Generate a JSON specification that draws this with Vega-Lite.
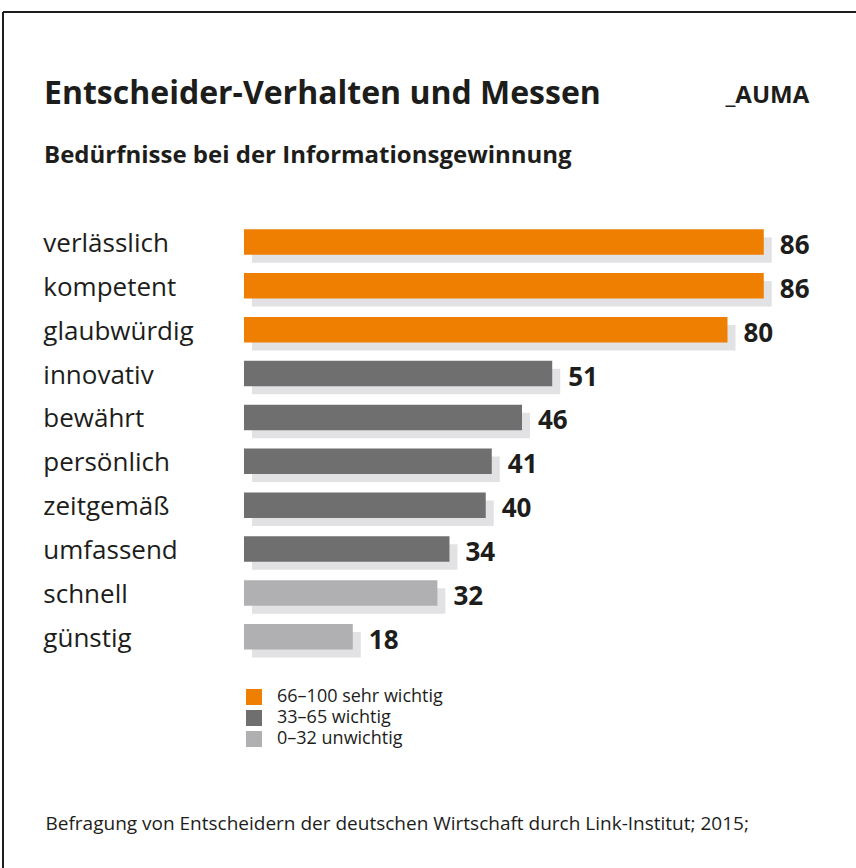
{
  "$schema": "https://vega.github.io/schema/vega-lite/v6.json",
  "width": 853,
  "height": 856,
  "autosize": {"type": "none"},
  "padding": {"left": 3, "top": 12, "right": 0, "bottom": 0},
  "background": "white",
  "title": {
    "text": "Entscheider-Verhalten und Messen",
    "subtitle": "Bedürfnisse bei der Informationsgewinnung",
    "anchor": "start",
    "frame": "group",
    "orient": "top",
    "offset": -157,
    "dx": 41,
    "font": "Open Sans",
    "fontSize": 32,
    "fontWeight": "bold",
    "color": "#1d1d1b",
    "subtitleFont": "Open Sans",
    "subtitleFontSize": 24,
    "subtitleFontWeight": "bold",
    "subtitleColor": "#1d1d1b",
    "subtitlePadding": 33
  },
  "data": {
    "values": [
      {"Merkmal": "verlässlich", "Wert": 86, "Gruppe": "66–100 sehr wichtig"},
      {"Merkmal": "kompetent", "Wert": 86, "Gruppe": "66–100 sehr wichtig"},
      {"Merkmal": "glaubwürdig", "Wert": 80, "Gruppe": "66–100 sehr wichtig"},
      {"Merkmal": "innovativ", "Wert": 51, "Gruppe": "33–65 wichtig"},
      {"Merkmal": "bewährt", "Wert": 46, "Gruppe": "33–65 wichtig"},
      {"Merkmal": "persönlich", "Wert": 41, "Gruppe": "33–65 wichtig"},
      {"Merkmal": "zeitgemäß", "Wert": 40, "Gruppe": "33–65 wichtig"},
      {"Merkmal": "umfassend", "Wert": 34, "Gruppe": "33–65 wichtig"},
      {"Merkmal": "schnell", "Wert": 32, "Gruppe": "0–32 unwichtig"},
      {"Merkmal": "günstig", "Wert": 18, "Gruppe": "0–32 unwichtig"}
    ]
  },
  "layer": [
    {
      "mark": {"type": "bar", "color": "#e2e2e4", "xOffset": 8, "x2Offset": 8, "yOffset": 8, "y2Offset": 8},
      "encoding": {
        "y": {
          "field": "Merkmal", "type": "nominal", "sort": null,
          "scale": {"type": "band", "range": [208, 646.7], "paddingInner": 0.419, "paddingOuter": 0.2095},
          "axis": {
            "orient": "right", "labels": false, "ticks": false, "domain": false, "grid": false,
            "title": "_AUMA", "titleAngle": 0, "titleAlign": "left", "titleBaseline": "alphabetic",
            "titleX": -131, "titleY": 90,
            "titleFont": "Open Sans", "titleFontSize": 24, "titleFontWeight": "bold", "titleColor": "#1d1d1b"
          }
        },
        "x": {
          "field": "Wert", "type": "quantitative",
          "scale": {"domain": [-39.87, 101.26], "nice": false, "zero": false},
          "axis": {
            "orient": "bottom", "labels": false, "ticks": false, "domain": false, "grid": false,
            "title": "Befragung von Entscheidern der deutschen Wirtschaft durch Link-Institut; 2015;",
            "titleAnchor": "start", "titleAlign": "left", "titleBaseline": "alphabetic",
            "titleX": 42, "titleY": -39,
            "titleFont": "Open Sans", "titleFontSize": 19, "titleFontWeight": "normal", "titleColor": "#1d1d1b",
            "titleLimit": 800
          }
        },
        "x2": {"datum": 0}
      }
    },
    {
      "mark": {"type": "bar"},
      "encoding": {
        "y": {"field": "Merkmal", "type": "nominal", "sort": null},
        "x": {"field": "Wert", "type": "quantitative"},
        "x2": {"datum": 0},
        "color": {
          "field": "Gruppe", "type": "nominal",
          "scale": {
            "domain": ["66–100 sehr wichtig", "33–65 wichtig", "0–32 unwichtig"],
            "range": ["#ee7f00", "#6f6f6f", "#b0b0b3"]
          },
          "legend": {
            "title": null, "orient": "none", "legendX": 242, "legendY": 676,
            "symbolType": "square", "symbolSize": 256, "symbolStrokeWidth": 0,
            "labelFont": "Open Sans", "labelFontSize": 18, "labelColor": "#1d1d1b",
            "labelOffset": 14, "rowPadding": 3, "padding": 0, "labelLimit": 400
          }
        }
      }
    },
    {
      "mark": {"type": "text", "align": "left", "baseline": "alphabetic", "dy": 10, "font": "Open Sans", "fontSize": 26, "color": "#1d1d1b"},
      "encoding": {
        "y": {"field": "Merkmal", "type": "nominal", "sort": null},
        "x": {"datum": -33.2},
        "text": {"field": "Merkmal"}
      }
    },
    {
      "mark": {"type": "text", "align": "left", "baseline": "alphabetic", "dx": 16, "dy": 12, "font": "Open Sans", "fontSize": 26, "fontWeight": "bold", "color": "#1d1d1b"},
      "encoding": {
        "y": {"field": "Merkmal", "type": "nominal", "sort": null},
        "x": {"field": "Wert", "type": "quantitative"},
        "text": {"field": "Wert", "type": "quantitative"}
      }
    }
  ],
  "config": {
    "view": {"stroke": "#1d1d1b", "strokeWidth": 2, "strokeDash": [853, 1709, 856, 0]}
  }
}
